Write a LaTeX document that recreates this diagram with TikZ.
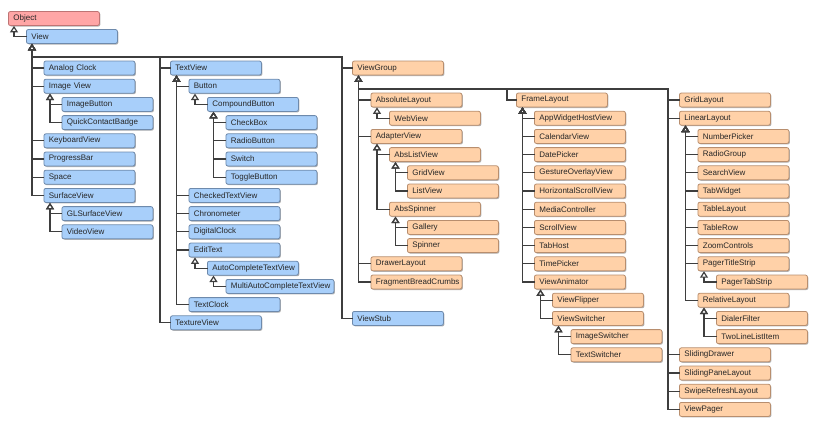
\documentclass[tikz,border=0pt]{standalone}
\usepackage{fontspec}
\setmainfont{Liberation Sans}
\usetikzlibrary{arrows.meta,shadows}
\definecolor{objpink}{RGB}{255,166,166}
\definecolor{objedge}{RGB}{190,116,116}
\definecolor{viewblue}{RGB}{168,207,250}
\definecolor{viewedge}{RGB}{110,138,172}
\definecolor{grouporange}{RGB}{255,209,168}
\definecolor{groupedge}{RGB}{184,142,110}
\definecolor{linkgray}{RGB}{62,62,62}
\definecolor{labelgray}{RGB}{38,38,38}
\hyphenpenalty=10000
\tikzset{
  cls/.style={anchor=west,rounded corners=2pt,line width=.8pt,minimum height=14pt,
    text width=81pt,inner xsep=5pt,inner ysep=0pt,align=left,text=labelgray,
    drop shadow={shadow xshift=1pt,shadow yshift=-1pt,opacity=.3,fill=black}},
  vbox/.style={cls,draw=viewedge,fill=viewblue},
  gbox/.style={cls,draw=groupedge,fill=grouporange},
  obox/.style={cls,draw=objedge,fill=objpink},
  link/.style={draw=linkgray,line width=1.2pt,line cap=rect},
  inh/.style={link,{Triangle[open,width=8pt,length=6.5pt]}-},
}

\begin{document}
\begin{tikzpicture}[x=1pt,y=-1pt,font=\fontsize{8}{9}\selectfont]
    \useasboundingbox (0,0) rectangle (817,424);
    \node[obox] (object) at (8,18.5) {Object};
    \node[vbox] (view) at (26,36.5) {View};
    % View children
    \node[vbox] (analogclock) at (43.5,68) {Analog Clock};
    \node[vbox] (imageview) at (43.5,86.2) {Image View};
    \node[vbox] (imagebutton) at (61.5,104.4) {ImageButton};
    \node[vbox] (quickbadge) at (61.5,122.6) {QuickContactBadge};
    \node[vbox] (keyboardview) at (43.5,140.8) {KeyboardView};
    \node[vbox] (progressbar) at (43.5,159) {ProgressBar};
    \node[vbox] (space) at (43.5,177.2) {Space};
    \node[vbox] (surfaceview) at (43.5,195.4) {SurfaceView};
    \node[vbox] (glsurface) at (61.5,213.6) {GLSurfaceView};
    \node[vbox] (videoview) at (61.5,231.8) {VideoView};
    % TextView column
    \node[vbox] (textview) at (170,68) {TextView};
    \node[vbox] (button) at (188.5,86.2) {Button};
    \node[vbox] (compoundbutton) at (207,104.4) {CompoundButton};
    \node[vbox] (checkbox) at (225.5,122.6) {CheckBox};
    \node[vbox] (radiobutton) at (225.5,140.8) {RadioButton};
    \node[vbox] (switch) at (225.5,159) {Switch};
    \node[vbox] (togglebutton) at (225.5,177.2) {ToggleButton};
    \node[vbox] (checkedtext) at (188.5,195.4) {CheckedTextView};
    \node[vbox] (chronometer) at (188.5,213.6) {Chronometer};
    \node[vbox] (digitalclock) at (188.5,231.8) {DigitalClock};
    \node[vbox] (edittext) at (188.5,250) {EditText};
    \node[vbox] (autocomplete) at (207,268.2) {AutoCompleteTextView};
    \node[vbox,text width=98pt] (multiauto) at (225.5,286.4) {MultiAutoCompleteTextView};
    \node[vbox] (textclock) at (188.5,304.6) {TextClock};
    \node[vbox] (textureview) at (170,322.8) {TextureView};
    % ViewGroup column
    \node[gbox] (viewgroup) at (352,68) {ViewGroup};
    \node[gbox] (absolutelayout) at (370.5,100) {AbsoluteLayout};
    \node[gbox] (webview) at (389,118.2) {WebView};
    \node[gbox] (adapterview) at (370.5,136.4) {AdapterView};
    \node[gbox] (abslistview) at (389,154.6) {AbsListView};
    \node[gbox] (gridview) at (407,172.8) {GridView};
    \node[gbox] (listview) at (407,191) {ListView};
    \node[gbox] (absspinner) at (389,209.2) {AbsSpinner};
    \node[gbox] (gallery) at (407,227.4) {Gallery};
    \node[gbox] (spinner) at (407,245.6) {Spinner};
    \node[gbox] (drawerlayout) at (370.5,263.8) {DrawerLayout};
    \node[gbox] (fragmentcrumbs) at (370.5,282) {FragmentBreadCrumbs};
    \node[vbox] (viewstub) at (352,318.4) {ViewStub};
    % FrameLayout column
    \node[gbox] (framelayout) at (516,100) {FrameLayout};
    \node[gbox] (appwidget) at (534,118.2) {AppWidgetHostView};
    \node[gbox] (calendarview) at (534,136.4) {CalendarView};
    \node[gbox] (datepicker) at (534,154.6) {DatePicker};
    \node[gbox] (gestureoverlay) at (534,172.8) {GestureOverlayView};
    \node[gbox] (hscrollview) at (534,191) {HorizontalScrollView};
    \node[gbox] (mediacontroller) at (534,209.2) {MediaController};
    \node[gbox] (scrollview) at (534,227.4) {ScrollView};
    \node[gbox] (tabhost) at (534,245.6) {TabHost};
    \node[gbox] (timepicker) at (534,263.8) {TimePicker};
    \node[gbox] (viewanimator) at (534,282) {ViewAnimator};
    \node[gbox] (viewflipper) at (552,300.2) {ViewFlipper};
    \node[gbox] (viewswitcher) at (552,318.4) {ViewSwitcher};
    \node[gbox] (imageswitcher) at (570.5,336.6) {ImageSwitcher};
    \node[gbox] (textswitcher) at (570.5,354.8) {TextSwitcher};
    % GridLayout column
    \node[gbox] (gridlayout) at (679,100) {GridLayout};
    \node[gbox] (linearlayout) at (679,118.2) {LinearLayout};
    \node[gbox] (numberpicker) at (697.5,136.4) {NumberPicker};
    \node[gbox] (radiogroup) at (697.5,154.6) {RadioGroup};
    \node[gbox] (searchview) at (697.5,172.8) {SearchView};
    \node[gbox] (tabwidget) at (697.5,191) {TabWidget};
    \node[gbox] (tablelayout) at (697.5,209.2) {TableLayout};
    \node[gbox] (tablerow) at (697.5,227.4) {TableRow};
    \node[gbox] (zoomcontrols) at (697.5,245.6) {ZoomControls};
    \node[gbox] (pagertitle) at (697.5,263.8) {PagerTitleStrip};
    \node[gbox] (pagertab) at (716,282) {PagerTabStrip};
    \node[gbox] (relativelayout) at (697.5,300.2) {RelativeLayout};
    \node[gbox] (dialerfilter) at (716,318.4) {DialerFilter};
    \node[gbox] (twoline) at (716,336.6) {TwoLineListItem};
    \node[gbox] (slidingdrawer) at (679,354.8) {SlidingDrawer};
    \node[gbox] (slidingpane) at (679,373) {SlidingPaneLayout};
    \node[gbox] (swiperefresh) at (679,391.2) {SwipeRefreshLayout};
    \node[gbox] (viewpager) at (679,409.4) {ViewPager};
    % bus corners
    \coordinate (vbus) at (32,57);
    \coordinate (tvtrunk) at (160,57);
    \coordinate (vgtrunk) at (342,57);
    \coordinate (gbus) at (358.5,89);
    \coordinate (fltrunk) at (507,89);
    \coordinate (gltrunk) at (668,89);
    % inheritance links
    \draw[inh] ([xshift=6pt]object.south west) |- (view.west);
    \foreach \c in {analogclock,imageview,keyboardview,progressbar,space,surfaceview}
      \draw[inh] ([xshift=6pt]view.south west) |- (\c.west);
    \draw[link] (vbus) -- (vgtrunk);
    \foreach \c in {textview,textureview} \draw[link] (tvtrunk) |- (\c.west);
    \foreach \c in {viewgroup,viewstub} \draw[link] (vgtrunk) |- (\c.west);
    \foreach \c in {imagebutton,quickbadge} \draw[inh] ([xshift=6.5pt]imageview.south west) |- (\c.west);
    \foreach \c in {glsurface,videoview} \draw[inh] ([xshift=6.5pt]surfaceview.south west) |- (\c.west);
    \foreach \c in {button,checkedtext,chronometer,digitalclock,edittext,textclock}
      \draw[inh] ([xshift=6.5pt]textview.south west) |- (\c.west);
    \draw[inh] ([xshift=6.5pt]button.south west) |- (compoundbutton.west);
    \foreach \c in {checkbox,radiobutton,switch,togglebutton}
      \draw[inh] ([xshift=6.5pt]compoundbutton.south west) |- (\c.west);
    \draw[inh] ([xshift=6.5pt]edittext.south west) |- (autocomplete.west);
    \draw[inh] ([xshift=6.5pt]autocomplete.south west) |- (multiauto.west);
    \foreach \c in {absolutelayout,adapterview,drawerlayout,fragmentcrumbs}
      \draw[inh] ([xshift=6.5pt]viewgroup.south west) |- (\c.west);
    \draw[link] (gbus) -- (gltrunk);
    \draw[link] (fltrunk) |- (framelayout.west);
    \foreach \c in {gridlayout,linearlayout,slidingdrawer,slidingpane,swiperefresh,viewpager}
      \draw[link] (gltrunk) |- (\c.west);
    \draw[inh] ([xshift=6.5pt]absolutelayout.south west) |- (webview.west);
    \foreach \c in {abslistview,absspinner} \draw[inh] ([xshift=6.5pt]adapterview.south west) |- (\c.west);
    \foreach \c in {gridview,listview} \draw[inh] ([xshift=6.5pt]abslistview.south west) |- (\c.west);
    \foreach \c in {gallery,spinner} \draw[inh] ([xshift=6.5pt]absspinner.south west) |- (\c.west);
    \foreach \c in {appwidget,calendarview,datepicker,gestureoverlay,hscrollview,mediacontroller,scrollview,tabhost,timepicker,viewanimator}
      \draw[inh] ([xshift=6.5pt]framelayout.south west) |- (\c.west);
    \foreach \c in {viewflipper,viewswitcher} \draw[inh] ([xshift=6.5pt]viewanimator.south west) |- (\c.west);
    \foreach \c in {imageswitcher,textswitcher} \draw[inh] ([xshift=6.5pt]viewswitcher.south west) |- (\c.west);
    \foreach \c in {numberpicker,radiogroup,searchview,tabwidget,tablelayout,tablerow,zoomcontrols,pagertitle,relativelayout}
      \draw[inh] ([xshift=6.5pt]linearlayout.south west) |- (\c.west);
    \draw[inh] ([xshift=6.5pt]pagertitle.south west) |- (pagertab.west);
    \foreach \c in {dialerfilter,twoline} \draw[inh] ([xshift=6.5pt]relativelayout.south west) |- (\c.west);
  \end{tikzpicture}
\end{document}
